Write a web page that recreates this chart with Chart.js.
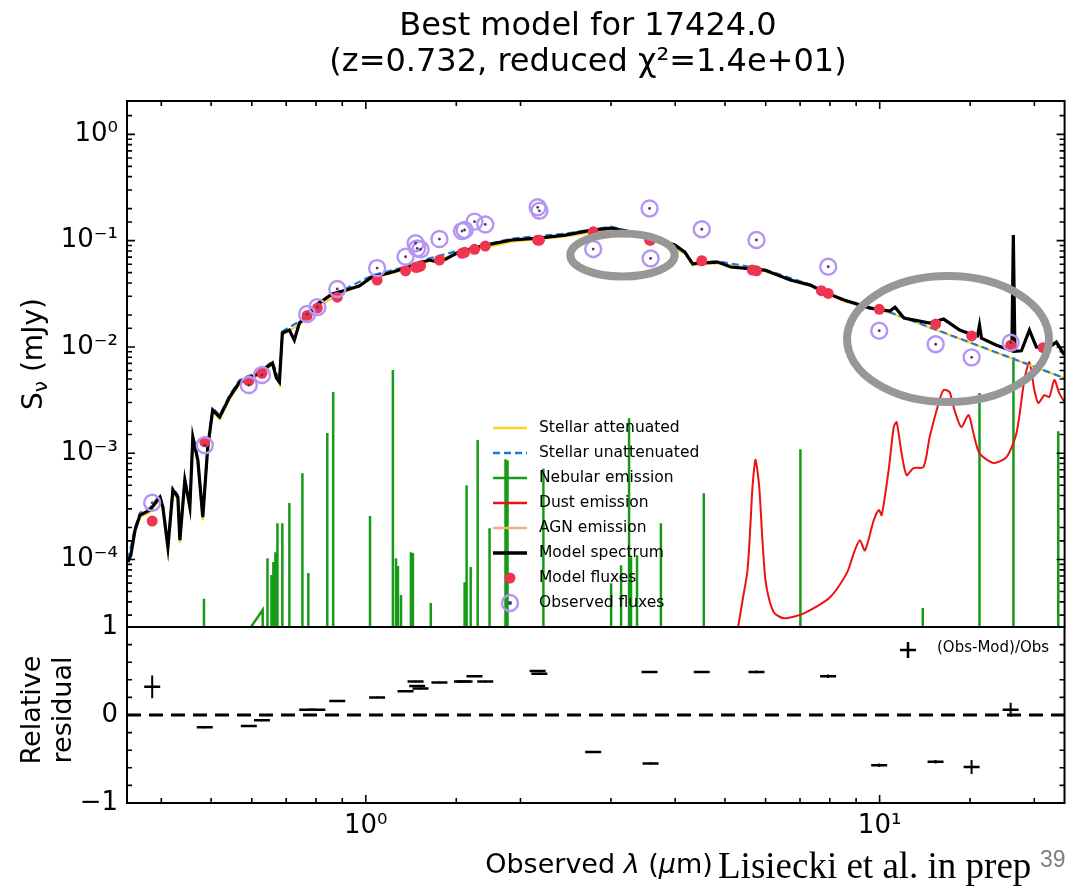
<!DOCTYPE html>
<html>
<head>
<meta charset="utf-8">
<script src="https://cdn.jsdelivr.net/npm/chart.js@4.4.1/dist/chart.umd.min.js"></script>
<style>
  html, body { margin: 0; padding: 0; background: #fff; }
  #wrap { position: relative; width: 1075px; height: 892px; overflow: hidden; font-family: 'DejaVu Sans', sans-serif; color: #000; }
  #wrap canvas { position: absolute; left: 0; top: 0; }
  #title { position: absolute; left: 188px; width: 800px; top: 6px; text-align: center; font-size: 32px; line-height: 36px; }
  #credit { position: absolute; left: 718px; top: 846px; font-family: 'Liberation Serif', 'Times New Roman', serif; font-size: 37px; line-height: 40px; white-space: nowrap; }
  #page { position: absolute; left: 1040px; top: 846px; font-family: 'Liberation Sans', Arial, sans-serif; font-size: 23px; color: #808080; }
</style>
</head>
<body>
<div id="wrap">
  <canvas id="sed" width="1075" height="892"></canvas>
  <canvas id="res" width="1075" height="892"></canvas>
  <div id="title">Best model for 17424.0<br>(z=0.732, reduced χ²=1.4e+01)</div>
  <div id="credit">Lisiecki et al. in prep</div>
  <div id="page">39</div>
</div>
<script>
// ---- photometry (observed λ in µm, flux in mJy) ----
const obsWl = [0.384, 0.486, 0.592, 0.628, 0.769, 0.805, 0.880, 1.052, 1.195, 1.250, 1.259, 1.278, 1.391, 1.539, 1.557, 1.628, 1.708, 2.160, 2.177, 2.770, 3.566, 3.583, 4.506, 5.758, 7.94, 9.98, 12.85, 15.1, 17.99];
const obsFlux = [3.42e-4, 1.19e-3, 4.38e-3, 5.44e-3, 0.0204, 0.0237, 0.0351, 0.0552, 0.0706, 0.0945, 0.0847, 0.0828, 0.1035, 0.123, 0.126, 0.151, 0.142, 0.206, 0.191, 0.0834, 0.201, 0.068, 0.128, 0.1014, 0.0568, 0.0142, 0.0106, 0.00798, 0.01096];
const modWl = [0.384, 0.486, 0.592, 0.628, 0.769, 0.805, 0.880, 1.052, 1.195, 1.250, 1.259, 1.278, 1.391, 1.539, 1.557, 1.628, 1.708, 2.160, 2.177, 2.770, 3.566, 3.583, 4.506, 5.65, 5.758, 7.70, 7.94, 9.98, 12.85, 15.1, 17.99, 20.8];
const modFlux = [2.30e-4, 1.28e-3, 4.81e-3, 5.65e-3, 0.0198, 0.0232, 0.0294, 0.0426, 0.0521, 0.0561, 0.0561, 0.0577, 0.0657, 0.076, 0.0776, 0.0828, 0.089, 0.101, 0.101, 0.121, 0.101, 0.101, 0.0647, 0.0529, 0.052, 0.0338, 0.0319, 0.0226, 0.0164, 0.0127, 0.0104, 0.00984];

// ---- residuals (Obs-Mod)/Obs ----
const resWl = [0.384, 0.486, 0.592, 0.628, 0.769, 0.805, 0.880, 1.052, 1.195, 1.250, 1.259, 1.278, 1.391, 1.539, 1.557, 1.628, 1.708, 2.160, 2.177, 2.770, 3.566, 3.583, 4.506, 5.758, 7.94, 9.98, 12.85, 15.1, 17.99];
const resVal = [0.32, -0.14, -0.125, -0.06, 0.06, 0.06, 0.16, 0.20, 0.27, 0.38, 0.33, 0.30, 0.37, 0.38, 0.38, 0.44, 0.38, 0.50, 0.47, -0.42, 0.49, -0.55, 0.49, 0.49, 0.44, -0.57, -0.53, -0.59, 0.06];
const resErr = [0.13, 0.01, 0.01, 0.01, 0.01, 0.01, 0.01, 0.01, 0.01, 0.01, 0.01, 0.01, 0.01, 0.01, 0.01, 0.01, 0.01, 0.01, 0.01, 0.01, 0.01, 0.01, 0.01, 0.015, 0.02, 0.02, 0.02, 0.08, 0.08];

// ---- model spectrum ----
const specWl = [0.3446, 0.349, 0.3556, 0.3636, 0.380, 0.3975, 0.4028, 0.412, 0.4213, 0.4308, 0.4347, 0.4445, 0.4546, 0.4607, 0.4711, 0.4817, 0.4925, 0.5036, 0.5196, 0.5433, 0.568, 0.594, 0.621, 0.658, 0.670, 0.679, 0.688, 0.710, 0.726, 0.7425, 0.766, 0.812, 0.860, 0.916, 0.971, 1.028, 1.110, 1.197, 1.326, 1.387, 1.431, 1.516, 1.711, 1.921, 2.168, 2.445, 2.746, 3.002, 3.282, 3.588, 3.995, 4.176, 4.327, 4.425, 4.84, 5.13, 5.97, 6.70, 7.33, 7.80, 8.53, 9.58, 10.47, 10.71, 11.15, 12.52, 13.32, 14.31, 15.24, 15.50, 15.64, 15.78, 16.88, 18.08, 18.2, 18.33, 18.87, 19.56, 20.18, 21.38, 22.07, 22.87];
const specFlux = [9.5e-5, 1.10e-4, 1.90e-4, 2.62e-4, 2.92e-4, 3.87e-4, 3.12e-4, 1.31e-4, 4.51e-4, 3.87e-4, 1.52e-4, 5.6e-4, 3.12e-4, 1.42e-3, 8.63e-4, 2.51e-4, 1.14e-3, 2.55e-3, 2.19e-3, 3.38e-3, 4.68e-3, 5.1e-3, 5.68e-3, 7.05e-3, 5.1e-3, 4.68e-3, 0.0135, 0.0144, 0.0116, 0.0168, 0.0191, 0.0259, 0.0315, 0.0343, 0.0374, 0.0455, 0.0496, 0.0552, 0.0657, 0.0629, 0.0671, 0.0781, 0.0909, 0.1014, 0.1058, 0.1129, 0.1258, 0.1314, 0.1205, 0.1058, 0.0909, 0.0781, 0.0603, 0.0616, 0.0629, 0.0565, 0.0529, 0.0426, 0.0382, 0.0328, 0.0276, 0.0232, 0.0218, 0.0237, 0.0187, 0.0168, 0.0183, 0.0144, 0.0129, 0.0127, 0.0161, 0.0121, 0.0104, 0.0092, 0.113, 0.0091, 0.0092, 0.0144, 0.00998, 0.00998, 0.0111, 0.0084];

// ---- stellar components ----
const stellarWl = [0.3446, 0.3556, 0.3636, 0.380, 0.3975, 0.4028, 0.412, 0.4213, 0.4308, 0.4347, 0.4445, 0.4546, 0.4607, 0.4711, 0.4817, 0.4925, 0.5036, 0.5196, 0.5433, 0.568, 0.621, 0.658, 0.679, 0.688, 0.7425, 0.812, 0.916, 1.028, 1.197, 1.326, 1.516, 1.921, 2.445, 3.002, 3.588, 4.176, 4.327, 4.84, 5.97, 7.33, 8.53, 10.47, 22.87];
const stellarUnatt = [1.0e-4, 2.0e-4, 2.75e-4, 3.05e-4, 4.05e-4, 3.25e-4, 1.38e-4, 4.7e-4, 4.05e-4, 1.6e-4, 5.85e-4, 3.25e-4, 1.49e-3, 9.0e-4, 2.62e-4, 1.19e-3, 2.66e-3, 2.28e-3, 3.52e-3, 4.88e-3, 5.9e-3, 7.3e-3, 4.88e-3, 0.0140, 0.0174, 0.0268, 0.0355, 0.0470, 0.0570, 0.0678, 0.0806, 0.1045, 0.1165, 0.1355, 0.1085, 0.0795, 0.0614, 0.0640, 0.0536, 0.0385, 0.0272, 0.0212, 0.0051];
const stellarAtt = [9.0e-5, 1.8e-4, 2.5e-4, 2.8e-4, 3.7e-4, 2.95e-4, 1.22e-4, 4.3e-4, 3.7e-4, 1.44e-4, 5.35e-4, 2.95e-4, 1.36e-3, 8.2e-4, 2.35e-4, 1.09e-3, 2.45e-3, 2.1e-3, 3.25e-3, 4.5e-3, 5.45e-3, 6.8e-3, 4.5e-3, 0.0130, 0.0162, 0.0250, 0.0332, 0.0440, 0.0535, 0.0636, 0.0755, 0.0980, 0.1095, 0.1275, 0.1020, 0.0760, 0.0590, 0.0615, 0.0520, 0.0375, 0.0268, 0.0210, 0.0051];

// ---- nebular emission: lines and continuum ----
const nebLineWl = [0.4842, 0.6437, 0.6553, 0.661, 0.667, 0.673, 0.688, 0.710, 0.7527, 0.773, 0.8415, 0.864, 1.019, 1.129, 1.145, 1.155, 1.171, 1.224, 1.235, 1.338, 1.557, 1.571, 1.600, 1.651, 1.741, 1.870, 1.887, 2.216, 3.002, 3.139, 3.253, 3.282, 3.371, 3.752, 4.547, 7.01, 12.13, 15.64, 18.21, 22.26];
const nebLinePeak = [4.27e-5, 1.03e-4, 7.15e-5, 9.46e-5, 1.17e-4, 2.2e-4, 2.2e-4, 3.40e-4, 6.5e-4, 7.46e-5, 1.55e-3, 3.77e-3, 2.57e-4, 6.07e-3, 1.03e-4, 8.7e-5, 4.63e-5, 1.17e-4, 1.15e-4, 3.9e-5, 6.1e-5, 5.0e-4, 8.5e-5, 1.33e-3, 1.97e-4, 8.8e-4, 8.6e-4, 7.2e-4, 6.0e-5, 8.85e-5, 2.14e-3, 1.05e-4, 1.1e-4, 2.2e-4, 4.2e-4, 1.09e-3, 3.5e-5, 3.68e-3, 8.0e-3, 1.61e-3];
const nebContWl = [0.585, 0.630, 0.631];
const nebContFlux = [2.0e-5, 3.35e-5, 1e-6];
const NEB_FLOOR = 1e-6;

// ---- dust emission ----
const dustWl = [5.29, 5.41, 5.53, 5.61, 5.655, 5.73, 5.78, 5.835, 5.913, 5.993, 6.10, 6.24, 6.525, 7.135, 8.005, 8.63, 8.945, 9.15, 9.36, 9.74, 9.96, 10.09, 10.41, 10.65, 10.79, 11.03, 11.28, 11.64, 12.17, 12.51, 13.02, 13.31, 13.67, 13.98, 14.42, 14.89, 15.22, 15.64, 16.65, 17.65, 18.46, 19.12, 19.56, 20.0, 20.36, 20.91, 21.38, 21.87, 22.36, 22.87];
const dustFlux = [2.16e-5, 4.14e-5, 7.93e-5, 2.35e-4, 4.8e-4, 8.65e-4, 6.97e-4, 4.52e-4, 1.53e-4, 6.44e-5, 4.14e-5, 3.13e-5, 2.8e-5, 3.13e-5, 4.42e-5, 7.45e-5, 1.22e-4, 1.52e-4, 1.22e-4, 2.35e-4, 2.92e-4, 2.62e-4, 6.95e-4, 1.76e-3, 1.96e-3, 1.0e-3, 6.24e-4, 7.26e-4, 7.42e-4, 1.42e-3, 2.96e-3, 3.93e-3, 3.77e-3, 2.55e-3, 1.76e-3, 2.29e-3, 1.55e-3, 1.0e-3, 8.1e-4, 9.2e-4, 1.55e-3, 4.89e-3, 7.2e-3, 3.93e-3, 2.96e-3, 3.52e-3, 3.38e-3, 4.89e-3, 3.68e-3, 3.03e-3];

// ---- hand-drawn highlight ellipses (λ range, flux range) ----
const ellipseWl = [[2.50, 3.99], [8.64, 21.35]];
const ellipseFlux = [[0.1166, 0.0460], [0.0464, 0.00303]];

// ---- axes ----
const X_MIN = 0.343, X_MAX = 22.9;
const Y_MIN = 2.32e-5, Y_MAX = 2.06;

const legendLabels = ['Stellar attenuated', 'Stellar unattenuated', 'Nebular emission', 'Dust emission', 'AGN emission', 'Model spectrum', 'Model fluxes', 'Observed fluxes'];

Chart.defaults.font.family = "'DejaVu Sans', sans-serif";
Chart.defaults.color = '#000';

const FONT = "'DejaVu Sans', sans-serif";
const SUP = { '0': '⁰', '1': '¹', '2': '²', '3': '³', '4': '⁴', '5': '⁵', '6': '⁶', '7': '⁷', '8': '⁸', '9': '⁹', '-': '⁻' };

function isPow10(v) {
  const e = Math.log10(v);
  return Math.abs(e - Math.round(e)) < 1e-6;
}

function pow10Label(v) {
  if (!isPow10(v)) return '';
  return '10' + String(Math.round(Math.log10(v))).split('').map(c => SUP[c]).join('');
}

const pts = (xs, ys) => xs.map((x, i) => ({ x, y: ys[i] }));

function nebularPoints() {
  const out = [];
  nebLineWl.forEach((w, i) => {
    out.push({ x: w, y: NEB_FLOOR }, { x: w, y: nebLinePeak[i] }, { x: w, y: NEB_FLOOR });
  });
  nebContWl.forEach((w, i) => out.push({ x: w, y: nebContFlux[i] }));
  return out.sort((a, b) => a.x - b.x);
}

// inward ticks + frame, matplotlib style
function drawFrame(chart, cfg) {
  const { ctx, chartArea: a } = chart;
  const xs = chart.scales.x, ys = chart.scales.y;
  ctx.save();
  ctx.strokeStyle = '#000';
  ctx.lineWidth = 1.6;
  ctx.beginPath();
  xs.ticks.forEach(t => {
    const px = xs.getPixelForValue(t.value);
    if (px < a.left + 2 || px > a.right - 2) return;
    const len = isPow10(t.value) ? 8 : 5;
    if (cfg.xTop) { ctx.moveTo(px, a.top); ctx.lineTo(px, a.top + len); }
    if (cfg.xBottom) { ctx.moveTo(px, a.bottom); ctx.lineTo(px, a.bottom - len); }
  });
  ys.ticks.forEach(t => {
    const py = ys.getPixelForValue(t.value);
    if (py < a.top + 2 || py > a.bottom - 2) return;
    const len = cfg.yMajor(t.value) ? 8 : 5;
    ctx.moveTo(a.left, py); ctx.lineTo(a.left + len, py);
    ctx.moveTo(a.right, py); ctx.lineTo(a.right - len, py);
  });
  ctx.stroke();
  ctx.lineWidth = 2;
  ctx.strokeRect(a.left, a.top, a.right - a.left, a.bottom - a.top);
  ctx.restore();
}

const sedDecor = {
  id: 'sedDecor',
  afterDatasetsDraw(chart) {
    const { ctx } = chart;
    const xs = chart.scales.x, ys = chart.scales.y;
    // grey highlight ellipses
    ctx.save();
    ctx.strokeStyle = '#979797';
    ctx.lineWidth = 8;
    ellipseWl.forEach((wl, i) => {
      const x1 = xs.getPixelForValue(wl[0]), x2 = xs.getPixelForValue(wl[1]);
      const y1 = ys.getPixelForValue(ellipseFlux[i][0]), y2 = ys.getPixelForValue(ellipseFlux[i][1]);
      ctx.beginPath();
      ctx.ellipse((x1 + x2) / 2, (y1 + y2) / 2, Math.abs(x2 - x1) / 2, Math.abs(y2 - y1) / 2, 0, 0, Math.PI * 2);
      ctx.stroke();
    });
    ctx.restore();

    // legend
    ctx.save();
    const x0 = 493, x1 = 527, tx = 539, y0 = 428, dy = 25;
    const lineStyles = [
      { c: '#ffd21f', dash: [] }, { c: '#1f78e0', dash: [7, 4] }, { c: '#169b16', dash: [] },
      { c: '#ee1111', dash: [] }, { c: '#f4b07a', dash: [] }, { c: '#000', dash: [] }
    ];
    lineStyles.forEach((s, i) => {
      const y = y0 + i * dy;
      ctx.beginPath();
      ctx.strokeStyle = s.c;
      ctx.lineWidth = i === 5 ? 3.5 : 2.5;
      ctx.setLineDash(s.dash);
      ctx.moveTo(x0, y); ctx.lineTo(x1, y);
      ctx.stroke();
    });
    ctx.setLineDash([]);
    const xm = (x0 + x1) / 2;
    ctx.fillStyle = '#ef3451';
    ctx.beginPath(); ctx.arc(xm, y0 + 6 * dy, 5.5, 0, Math.PI * 2); ctx.fill();
    ctx.strokeStyle = '#b594f2'; ctx.lineWidth = 2.4;
    ctx.beginPath(); ctx.arc(xm, y0 + 7 * dy, 8, 0, Math.PI * 2); ctx.stroke();
    ctx.fillStyle = '#3a3a80';
    ctx.beginPath(); ctx.arc(xm, y0 + 7 * dy, 2, 0, Math.PI * 2); ctx.fill();
    ctx.fillStyle = '#000';
    ctx.font = '15.5px ' + FONT;
    ctx.textBaseline = 'middle';
    legendLabels.forEach((t, i) => ctx.fillText(t, tx, y0 + i * dy));
    ctx.restore();
  },
  afterDraw(chart) {
    drawFrame(chart, { xTop: true, xBottom: false, yMajor: isPow10 });
    // y title: S_nu (mJy)
    const { ctx } = chart;
    ctx.save();
    ctx.translate(42, 354);
    ctx.rotate(-Math.PI / 2);
    ctx.fillStyle = '#000';
    const big = '28px ' + FONT, small = '20px ' + FONT;
    ctx.font = big;
    const wS = ctx.measureText('S').width, wR = ctx.measureText(' (mJy)').width;
    ctx.font = small;
    const wN = ctx.measureText('ν').width;
    let x = -(wS + wN + wR) / 2;
    ctx.font = big; ctx.fillText('S', x, 0); x += wS;
    ctx.font = small; ctx.fillText('ν', x, 5); x += wN;
    ctx.font = big; ctx.fillText(' (mJy)', x, 0);
    ctx.restore();
  }
};

const resDecor = {
  id: 'resDecor',
  beforeDatasetsDraw(chart) {
    const { ctx, chartArea: a } = chart;
    const y = chart.scales.y.getPixelForValue(0);
    ctx.save();
    ctx.strokeStyle = '#000';
    ctx.lineWidth = 3;
    ctx.setLineDash([14, 8]);
    ctx.beginPath(); ctx.moveTo(a.left, y); ctx.lineTo(a.right, y); ctx.stroke();
    ctx.restore();
  },
  afterDatasetsDraw(chart) {
    const { ctx } = chart;
    const xs = chart.scales.x, ys = chart.scales.y;
    ctx.save();
    ctx.strokeStyle = '#000';
    ctx.lineWidth = 2;
    ctx.beginPath();
    resWl.forEach((w, i) => {
      const px = xs.getPixelForValue(w);
      ctx.moveTo(px, ys.getPixelForValue(resVal[i] + resErr[i]));
      ctx.lineTo(px, ys.getPixelForValue(resVal[i] - resErr[i]));
    });
    ctx.stroke();
    // legend
    ctx.lineWidth = 2.5;
    ctx.beginPath();
    ctx.moveTo(900, 650); ctx.lineTo(916, 650);
    ctx.moveTo(908, 642); ctx.lineTo(908, 658);
    ctx.stroke();
    ctx.fillStyle = '#000';
    ctx.font = '15px ' + FONT;
    ctx.textBaseline = 'middle';
    ctx.fillText('(Obs-Mod)/Obs', 937, 648);
    ctx.restore();
  },
  afterDraw(chart) {
    drawFrame(chart, { xTop: false, xBottom: true, yMajor: v => Math.abs(v - Math.round(v)) < 1e-6 });
    const { ctx } = chart;
    ctx.save();
    ctx.fillStyle = '#000';
    ctx.font = '27px ' + FONT;
    ctx.textAlign = 'center';
    ctx.translate(0, 710);
    ctx.rotate(-Math.PI / 2);
    ctx.fillText('Relative', 0, 40);
    ctx.fillText('residual', 0, 71);
    ctx.restore();
    // x title: Observed λ (µm)
    ctx.save();
    ctx.fillStyle = '#000';
    const pieces = [['Observed ', ''], ['λ', 'italic '], [' (', ''], ['μ', 'italic '], ['m)', '']];
    let total = 0;
    pieces.forEach(p => { ctx.font = p[1] + '27px ' + FONT; total += ctx.measureText(p[0]).width; });
    let x = 599 - total / 2;
    pieces.forEach(p => { ctx.font = p[1] + '27px ' + FONT; ctx.fillText(p[0], x, 873); x += ctx.measureText(p[0]).width; });
    ctx.restore();
  }
};

const sedChart = new Chart(document.getElementById('sed'), {
  type: 'scatter',
  data: {
    datasets: [
      { data: pts(obsWl, obsFlux), pointRadius: 1.4, backgroundColor: '#3a3a80', borderWidth: 0 },
      { data: pts(obsWl, obsFlux), pointRadius: 8, borderColor: '#b594f2', borderWidth: 2.4, backgroundColor: 'rgba(0,0,0,0)' },
      { data: pts(modWl, modFlux), pointRadius: 5.5, backgroundColor: '#ef3451', borderWidth: 0 },
      { data: pts(specWl, specFlux), showLine: true, pointRadius: 0, borderColor: '#000', borderWidth: 3.2, clip: 0 },
      { data: pts(stellarWl, stellarUnatt), showLine: true, pointRadius: 0, borderColor: '#1f78e0', borderWidth: 2.2, borderDash: [7, 4], clip: 0 },
      { data: pts(stellarWl, stellarAtt), showLine: true, pointRadius: 0, borderColor: '#ffd21f', borderWidth: 2.2, clip: 0 },
      { data: pts(dustWl, dustFlux), showLine: true, pointRadius: 0, borderColor: '#ee1111', borderWidth: 2, tension: 0.25, clip: 0 },
      { data: nebularPoints(), showLine: true, pointRadius: 0, borderColor: '#169b16', borderWidth: 2.5, clip: 0 }
    ]
  },
  options: {
    responsive: false,
    animation: false,
    devicePixelRatio: 1,
    layout: { padding: { left: 0, top: 101, right: 7, bottom: 265 } },
    plugins: { legend: { display: false }, tooltip: { enabled: false } },
    scales: {
      x: {
        type: 'logarithmic', min: X_MIN, max: X_MAX, bounds: 'data', display: false,
        afterFit: s => { s.height = 0; }
      },
      y: {
        type: 'logarithmic', min: Y_MIN, max: Y_MAX, bounds: 'data',
        grid: { display: false, drawTicks: false },
        border: { display: false },
        ticks: { autoSkip: false, padding: 9, font: { size: 26 }, callback: v => pow10Label(v) },
        afterFit: s => { s.width = 127; }
      }
    }
  },
  plugins: [sedDecor]
});

const resChart = new Chart(document.getElementById('res'), {
  type: 'scatter',
  data: {
    datasets: [
      { data: pts(resWl, resVal), pointStyle: 'line', pointRadius: 8, borderColor: '#000', borderWidth: 2.5 }
    ]
  },
  options: {
    responsive: false,
    animation: false,
    devicePixelRatio: 1,
    layout: { padding: { left: 0, top: 627, right: 7, bottom: 0 } },
    plugins: { legend: { display: false }, tooltip: { enabled: false } },
    scales: {
      x: {
        type: 'logarithmic', min: X_MIN, max: X_MAX, bounds: 'data',
        grid: { display: false, drawTicks: false },
        border: { display: false },
        ticks: { autoSkip: false, maxRotation: 0, padding: 8, font: { size: 26 }, callback: v => pow10Label(v) },
        afterFit: s => { s.height = 89; }
      },
      y: {
        type: 'linear', min: -1, max: 1,
        grid: { display: false, drawTicks: false },
        border: { display: false },
        ticks: {
          stepSize: 0.2, autoSkip: false, padding: 9, font: { size: 26 },
          callback: v => {
            if (Math.abs(v - Math.round(v)) > 1e-6) return '';
            const r = Math.round(v);
            return r < 0 ? '−' + Math.abs(r) : String(r);
          }
        },
        afterFit: s => { s.width = 127; }
      }
    }
  },
  plugins: [resDecor]
});
</script>
</body>
</html>
